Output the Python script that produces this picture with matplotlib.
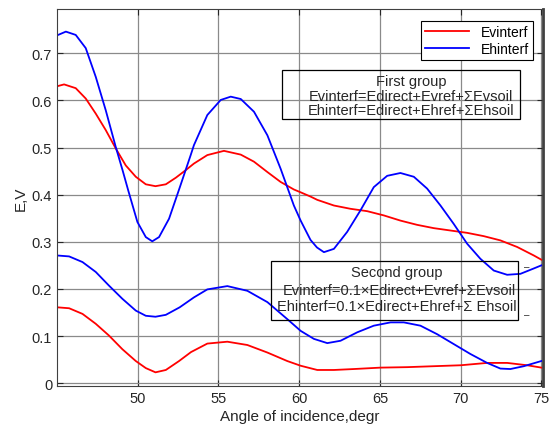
import matplotlib
matplotlib.use('Agg')
import matplotlib.pyplot as plt
from matplotlib.patches import Rectangle

plt.rcParams['font.family'] = ['Liberation Sans', 'DejaVu Sans']

# first group
x_ev1 = [45.0, 45.44, 46.16, 46.78, 47.4, 48.02, 48.64, 49.26, 49.88, 50.5, 51.1, 51.74, 52.36, 52.97,
         53.48, 54.31, 55.34, 56.38, 57.2, 58.03, 58.85, 59.67, 60.09, 60.7, 61.12, 62.15, 63.18, 64.21,
         65.24, 66.27, 67.3, 68.33, 69.36, 70.4, 71.43, 72.46, 73.5, 74.53, 75.0]
ev1 = [0.630, 0.634, 0.626, 0.604, 0.572, 0.537, 0.498, 0.462, 0.438, 0.422, 0.418, 0.422, 0.436, 0.452,
       0.466, 0.484, 0.493, 0.485, 0.470, 0.448, 0.427, 0.411, 0.405, 0.396, 0.389, 0.377, 0.370, 0.365,
       0.356, 0.345, 0.336, 0.329, 0.324, 0.319, 0.312, 0.303, 0.289, 0.271, 0.262]

x_eh1 = [45.0, 45.55, 46.16, 46.78, 47.4, 48.02, 48.64, 49.06, 49.42, 49.98, 50.5, 50.9, 51.32, 51.94,
         52.6, 53.28, 53.48, 54.31, 55.14, 55.76, 56.38, 57.2, 58.03, 58.85, 59.67, 60.09, 60.7, 61.1,
         61.53, 62.15, 62.97, 63.8, 64.62, 65.45, 66.27, 67.1, 67.92, 68.75, 69.57, 70.4, 71.22, 72.05,
         72.88, 73.7, 74.5, 75.0]
eh1 = [0.738, 0.746, 0.739, 0.711, 0.650, 0.579, 0.501, 0.452, 0.408, 0.342, 0.310, 0.301, 0.310, 0.349,
       0.415, 0.484, 0.505, 0.569, 0.601, 0.608, 0.603, 0.576, 0.526, 0.455, 0.377, 0.345, 0.304, 0.288,
       0.278, 0.285, 0.321, 0.367, 0.416, 0.440, 0.446, 0.438, 0.413, 0.377, 0.338, 0.296, 0.264, 0.239,
       0.230, 0.232, 0.243, 0.250]

# second group
x_ev2 = [45.0, 45.75, 46.58, 47.4, 48.22, 49.05, 49.88, 50.5, 51.1, 51.74, 52.56, 53.3, 54.31, 55.55,
         56.79, 58.03, 59.26, 60.09, 61.12, 62.15, 63.38, 65.04, 66.69, 68.33, 70.0, 71.64, 72.88, 74.12, 75.0]
ev2 = [0.161, 0.159, 0.147, 0.126, 0.101, 0.072, 0.047, 0.032, 0.023, 0.028, 0.047, 0.066, 0.084, 0.088,
       0.081, 0.065, 0.047, 0.037, 0.028, 0.028, 0.030, 0.033, 0.034, 0.036, 0.038, 0.043, 0.043, 0.038, 0.033]

x_eh2 = [45.0, 45.75, 46.58, 47.4, 48.22, 49.05, 49.88, 50.5, 51.1, 51.74, 52.6, 53.48, 54.31, 55.55,
         56.79, 58.03, 59.26, 60.09, 60.91, 61.74, 62.56, 63.6, 64.62, 65.66, 66.48, 67.51, 68.54, 69.57,
         70.6, 71.64, 72.46, 73.08, 73.91, 75.0]
eh2 = [0.271, 0.269, 0.257, 0.236, 0.207, 0.179, 0.154, 0.143, 0.141, 0.145, 0.161, 0.182, 0.199, 0.206,
       0.196, 0.172, 0.136, 0.111, 0.094, 0.085, 0.090, 0.108, 0.122, 0.129, 0.129, 0.122, 0.104, 0.083,
       0.062, 0.043, 0.031, 0.030, 0.036, 0.047]

W, H = 553, 439
fig = plt.figure(figsize=(W / 100, H / 100), dpi=100)
ax = fig.add_axes([57 / W, 1 - 387 / H, 486 / W, 377 / H])

l1, = ax.plot(x_ev1, ev1, color='red', lw=1.3)
l2, = ax.plot(x_eh1, eh1, color='blue', lw=1.3)
ax.plot(x_ev2, ev2, color='red', lw=1.3)
ax.plot(x_eh2, eh2, color='blue', lw=1.3)

ax.set_xlim(45, 75.1)
ax.set_ylim(-0.006, 0.794)
ax.set_xticks([50, 55, 60, 65, 70, 75])
ax.set_yticks([0, 0.1, 0.2, 0.3, 0.4, 0.5, 0.6, 0.7])
ax.set_yticklabels(['0', '0.1', '0.2', '0.3', '0.4', '0.5', '0.6', '0.7'])
ax.grid(True, color='#8a8a8a', lw=0.9)
ax.tick_params(direction='in', top=True, right=True, labelsize=10.5, colors='#262626', length=4)
for s in ax.spines.values():
    s.set_color('#404040')
ax.spines['right'].set_linewidth(2)
ax.set_xlabel('Angle of incidence,degr', fontsize=11, color='#262626', labelpad=3)
ax.set_ylabel('E,V', fontsize=11, color='#262626', labelpad=3)

leg = ax.legend([l1, l2], ['Evinterf', 'Ehinterf'], loc='upper right',
                bbox_to_anchor=(533 / W, 1 - 22 / H), bbox_transform=fig.transFigure,
                fancybox=False, framealpha=1, edgecolor='black', fontsize=10,
                handlelength=3.2, borderpad=0.3, labelspacing=0.2, borderaxespad=0)
leg.get_frame().set_linewidth(0.8)

# annotation boxes (transparent, as in the original)
fig.patches.append(Rectangle((282 / W, 1 - 120 / H), 238 / W, 49 / H, transform=fig.transFigure,
                             fill=False, edgecolor='black', lw=0.9, zorder=5))
fig.text(411 / W, 1 - 82 / H, 'First group', ha='center', va='center', fontsize=10.5, color='#262626', zorder=6)
fig.text(411 / W, 1 - 97 / H, 'Evinterf=Edirect+Evref+\u03a3Evsoil', ha='center', va='center', fontsize=10.5, color='#262626', zorder=6)
fig.text(411 / W, 1 - 111 / H, 'Ehinterf=Edirect+Ehref+\u03a3Ehsoil', ha='center', va='center', fontsize=10.5, color='#262626', zorder=6)

fig.patches.append(Rectangle((271 / W, 1 - 321 / H), 247 / W, 59 / H, transform=fig.transFigure,
                             fill=False, edgecolor='black', lw=0.9, zorder=5))
fig.text(397 / W, 1 - 273 / H, 'Second group', ha='center', va='center', fontsize=10.5, color='#262626', zorder=6)
fig.text(399 / W, 1 - 291 / H, 'Evinterf=0.1\u00d7Edirect+Evref+\u03a3Evsoil', ha='center', va='center', fontsize=10.5, color='#262626', zorder=6)
fig.text(397 / W, 1 - 307 / H, 'Ehinterf=0.1\u00d7Edirect+Ehref+\u03a3 Ehsoil', ha='center', va='center', fontsize=10.5, color='#262626', zorder=6)
fig.text(527 / W, 1 - 267 / H, '\u2013', ha='center', va='center', fontsize=7, color='#262626')
fig.text(527 / W, 1 - 315 / H, '\u2013', ha='center', va='center', fontsize=7, color='#262626')

fig.savefig('out.png', dpi=100)
